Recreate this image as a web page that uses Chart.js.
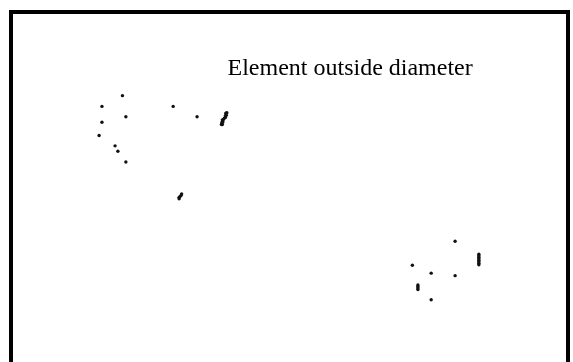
<!DOCTYPE html>
<html>
<head>
<meta charset="utf-8">
<script src="https://cdn.jsdelivr.net/npm/chart.js@4/dist/chart.umd.min.js"></script>
<style>
  html, body { margin: 0; padding: 0; background: #fff; }
  #wrap { position: relative; width: 573px; height: 362px; }
</style>
</head>
<body>
<div id="wrap"><canvas id="chart" width="573" height="362"></canvas></div>
<script>
const chartTitle = "Element outside diameter";

// measurement positions (relative units, 0-100 on both axes)
const xValues = [
  21.2, 17.6, 30.1, 21.8, 34.3, 17.6, 17.1, 19.9, 20.4, 21.8,
  39.53, 39.35, 39.44, 39.27, 39.27, 39.09, 38.92, 38.74, 38.83, 38.66, 38.74, 38.57,
  31.59, 31.50, 31.33, 31.15, 31.15,
  79.6,
  83.77, 83.77, 83.77, 83.77, 83.77, 83.77, 83.77, 83.77,
  72.1, 75.4, 79.6,
  73.07, 73.07, 73.07, 73.07,
  75.4
];
const yValues = [
  73.8, 70.8, 70.8, 67.9, 67.9, 66.4, 62.7, 59.8, 58.3, 55.3,
  69.06, 68.92, 68.37, 68.23, 67.68, 67.54, 67.13, 66.99, 66.44, 66.30, 65.75, 65.75,
  46.41, 46.00, 45.72, 45.44, 45.03,
  33.2,
  29.56, 29.14, 28.73, 28.31, 27.90, 27.49, 27.07, 26.66,
  26.5, 24.3, 23.6,
  20.99, 20.58, 20.17, 19.75,
  16.9
];
const axisRange = [0, 100];

const framePlugin = {
  id: "frame",
  afterDraw(chart) {
    const ctx = chart.ctx;
    ctx.save();
    ctx.strokeStyle = "#000";
    ctx.lineWidth = 4;
    ctx.beginPath();
    ctx.moveTo(11, 370);
    ctx.lineTo(11, 12);
    ctx.lineTo(568, 12);
    ctx.lineTo(568, 370);
    ctx.stroke();
    ctx.fillStyle = "#000";
    ctx.font = "24px 'Liberation Serif', 'Times New Roman', serif";
    ctx.textAlign = "left";
    ctx.textBaseline = "alphabetic";
    ctx.fillText(chartTitle, 227.5, 75);
    ctx.restore();
  },
};

new Chart(document.getElementById("chart"), {
  type: "scatter",
  data: {
    datasets: [{
      data: xValues.map((x, i) => ({ x, y: yValues[i] })),
      backgroundColor: "#111",
      borderWidth: 0,
      pointRadius: 1.7,
      pointHoverRadius: 1.7,
    }],
  },
  options: {
    responsive: false,
    animation: false,
    events: [],
    layout: { padding: 0 },
    plugins: { legend: { display: false }, tooltip: { enabled: false } },
    scales: {
      x: { type: "linear", min: axisRange[0], max: axisRange[1], display: false },
      y: { type: "linear", min: axisRange[0], max: axisRange[1], display: false },
    },
  },
  plugins: [framePlugin],
});
</script>
</body>
</html>
